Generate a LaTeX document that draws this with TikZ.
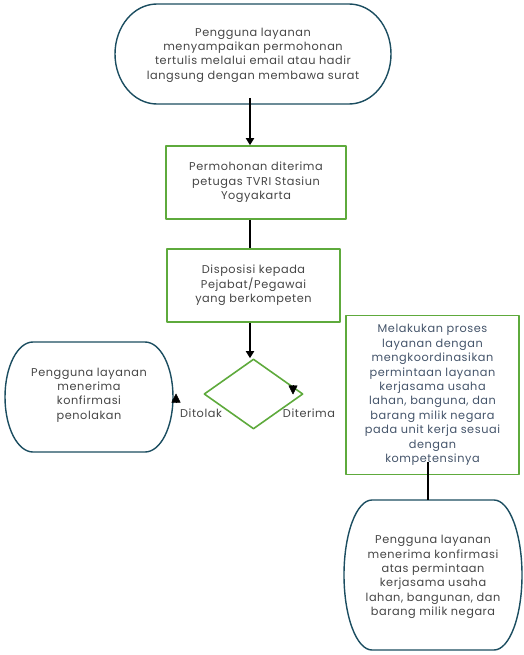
\documentclass[tikz,border=0pt]{standalone}
\usepackage{fontspec}
\setmainfont{Poppins}[LetterSpace=5]
\usetikzlibrary{arrows.meta,shapes.geometric}
\definecolor{biru}{HTML}{1B4D60}
\definecolor{hijau}{HTML}{5EAA3C}
\definecolor{teksabu}{HTML}{454545}
\definecolor{teksbiru}{HTML}{44546A}
\begin{document}
\begin{tikzpicture}[x=1pt, y=-1pt, >={Triangle[length=7pt,width=8pt]}, line join=round,
	font=\fontsize{11.3}{14.4}\selectfont, text=teksabu,
	teks/.style={align=center, inner sep=0pt},
	kotak/.style={draw=hijau, line width=1.6pt, align=center, inner sep=2pt},
	ujung/.style={draw=biru, line width=1.4pt},
	alur/.style={line width=2pt, ->}]
	\useasboundingbox (0,0) rectangle (523,655);
	% bentuk ujung (terminal)
	\foreach \cx/\cy/\hw/\hh/\r in {253/54/138/50/42, 89/397/84/55/28, 433/575/89/75/28}{
		\draw[ujung] (\cx-\hw+\r,\cy-\hh) -- (\cx+\hw-\r,\cy-\hh)
		arc[start angle=-90, end angle=90, x radius=\r, y radius=\hh]
		-- (\cx-\hw+\r,\cy+\hh)
		arc[start angle=90, end angle=270, x radius=\r, y radius=\hh] -- cycle;
	}
	\node[teks] (awal) at (253,55) {Pengguna layanan\\menyampaikan permohonan\\tertulis melalui email atau hadir\\langsung dengan membawa surat};
	\node[kotak, minimum width=180, minimum height=73] (terima) at (256,182.5) {Permohonan diterima\\petugas TVRI Stasiun\\Yogyakarta};
	\node[kotak, minimum width=173, minimum height=73] (disposisi) at (253.5,285.5) {Disposisi kepada\\Pejabat/Pegawai\\yang berkompeten};
	\node[diamond, draw=hijau, line width=1.6pt, minimum width=99, minimum height=70, inner sep=0pt] (putusan) at (253.5,394) {};
	\node[kotak, minimum width=173, minimum height=159, text=teksbiru] (proses) at (432.5,395) {Melakukan proses\\layanan dengan\\mengkoordinasikan\\permintaan layanan\\kerjasama usaha\\lahan, banguna, dan\\barang milik negara\\pada unit kerja sesuai\\dengan\\kompetensinya};
	\node[teks] (tolak) at (89,395) {Pengguna layanan\\menerima\\konfirmasi\\penolakan};
	\node[teks] (selesai) at (433,577) {Pengguna layanan\\menerima konfirmasi\\atas permintaan\\kerjasama usaha\\lahan, bangunan, dan\\barang milik negara};
	\node[teks] (ditolak) at (201,413) {Ditolak};
	\node[teks] (diterima) at (309,413) {Diterima};
	% penghubung
	\coordinate (p1) at (250,98);
	\coordinate (p2) at (428,462);
	\coordinate (uselesai) at (433,500);
	\draw[alur] (p1) -- (p1 |- terima.north);
	\draw[line width=2pt] (p1 |- terima.south) -- (p1 |- disposisi.north);
	\draw[alur] (p1 |- disposisi.south) -- (p1 |- putusan.north);
	\draw[line width=2pt] (p2) -- (p2 |- uselesai);
	\coordinate (k1) at (176,403);
	\coordinate (k2) at (293,385);
	\draw[-{Triangle[length=9pt,width=9pt]}, line width=0.4pt] (k1) -- ++(0,-9.5);
	\draw[-{Triangle[length=9pt,width=9pt]}, line width=0.4pt] (k2) -- ++(0,9.5);
\end{tikzpicture}
\end{document}
